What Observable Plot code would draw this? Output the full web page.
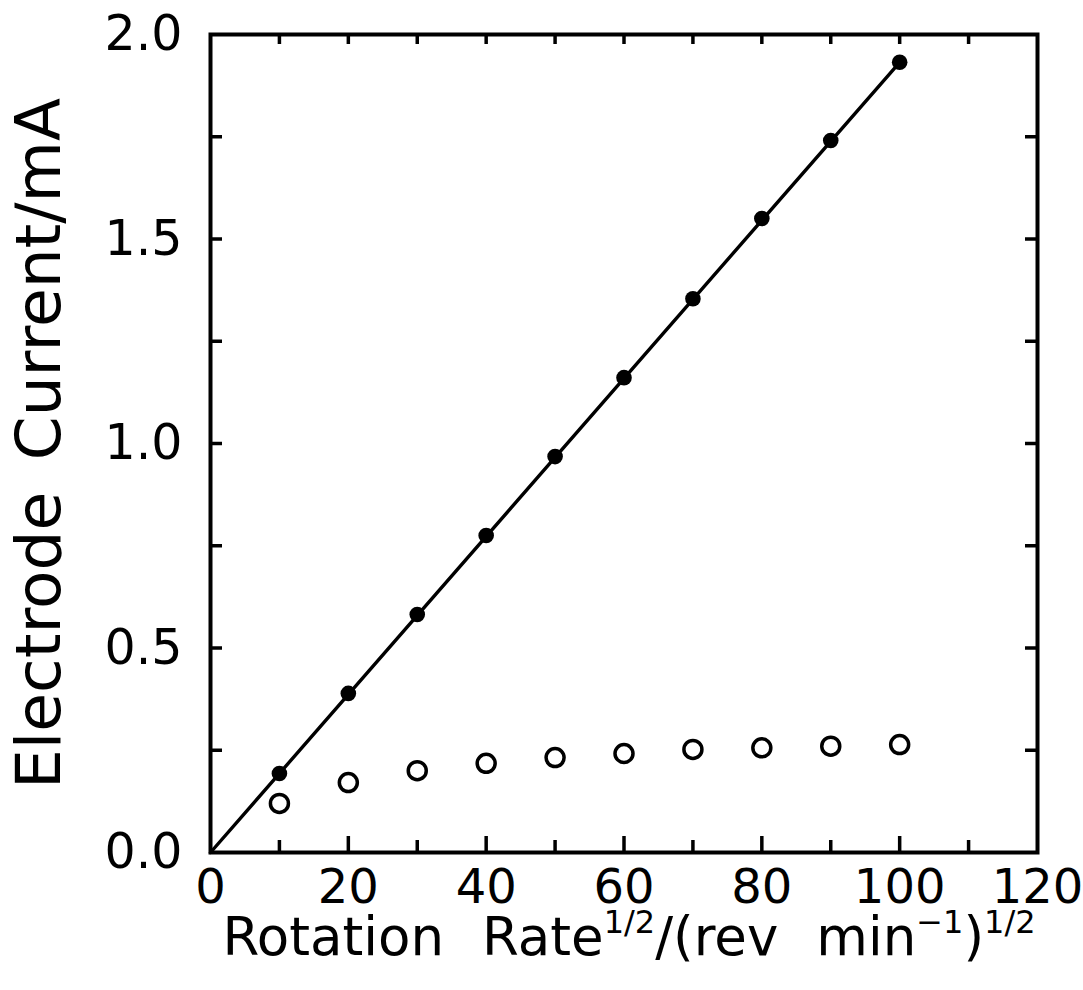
<!DOCTYPE html>
<html><head><meta charset="utf-8">
<script src="https://cdn.jsdelivr.net/npm/d3@7"></script>
<script src="https://cdn.jsdelivr.net/npm/@observablehq/plot@0.6"></script>
<style>
body{margin:0;background:#fff;}
#xlabel{font-family:"DejaVu Sans";font-size:53px;line-height:54px;width:1083px;text-align:center;padding-left:175px;box-sizing:border-box;word-spacing:0.4em;white-space:nowrap;color:#000;}
.sup{position:relative;top:-22px;font-size:32px;word-spacing:0;}
</style></head><body>
<div id="chart"></div>
<div id="xlabel">Rotation Rate<span class="sup">1/2</span>/(rev min<span class="sup">−1</span>)<span class="sup">1/2</span></div>
<script>
// Data
const rotationRate = [10, 20, 30, 40, 50, 60, 70, 80, 90, 100];
const currentFilled = [0.193, 0.389, 0.582, 0.775, 0.968, 1.161, 1.354, 1.550, 1.741, 1.932];
const currentOpen = [0.120, 0.171, 0.200, 0.218, 0.232, 0.242, 0.252, 0.256, 0.260, 0.264];
const fitX = [0, 100];
const fitY = [0, 1.932];
const xTickLabels = [0, 20, 40, 60, 80, 100, 120];
const xMinorTicks = [10, 30, 50, 70, 90, 110];
const xMajorInner = [20, 40, 60, 80, 100];
const xTopTicks = [10, 20, 30, 40, 50, 60, 70, 80, 90, 100, 110];
const yTickLabels = [0, 0.5, 1.0, 1.5, 2.0];
const ySideTicks = [0.25, 0.5, 0.75, 1.0, 1.25, 1.5, 1.75];
const yLabel = "Electrode\u2002Current/mA";

const W = 1083, H = 910;
const mL = 210, mR = 46, mT = 34, mB = 58;
const pw = W - mL - mR, ph = H - mT - mB;

const filled = rotationRate.map((x, i) => ({x, y: currentFilled[i]}));
const open = rotationRate.map((x, i) => ({x, y: currentOpen[i]}));
const fit = fitX.map((x, i) => ({x, y: fitY[i]}));

const chart = Plot.plot({
  width: W, height: H,
  marginLeft: mL, marginRight: mR, marginTop: mT, marginBottom: mB,
  style: {fontFamily: "DejaVu Sans", background: "white", color: "black", overflow: "visible"},
  x: {domain: [0, 120]},
  y: {domain: [0, 2]},
  marks: [
    // inward ticks
    Plot.tickX(xMajorInner, {x: d => d, insetTop: ph - 16, strokeWidth: 3.5, stroke: "black"}),
    Plot.tickX(xMinorTicks, {x: d => d, insetTop: ph - 12, strokeWidth: 3.5, stroke: "black"}),
    Plot.tickX(xTopTicks, {x: d => d, insetBottom: ph - 10, strokeWidth: 3.5, stroke: "black"}),
    Plot.tickY(ySideTicks, {y: d => d, insetRight: pw - 12, strokeWidth: 3.5, stroke: "black"}),
    Plot.tickY(ySideTicks, {y: d => d, insetLeft: pw - 12, strokeWidth: 3.5, stroke: "black"}),
    Plot.axisX({ticks: xTickLabels, tickSize: 0, tickPadding: 16, fontSize: 48, tickFormat: d => d, label: null}),
    Plot.axisY({ticks: yTickLabels, tickSize: 0, tickPadding: 28, fontSize: 49, tickFormat: d3.format(".1f"), label: null}),
    Plot.frame({stroke: "black", strokeWidth: 4}),
    Plot.line(fit, {x: "x", y: "y", stroke: "black", strokeWidth: 3.4}),
    Plot.dot(open, {x: "x", y: "y", r: 9, stroke: "black", strokeWidth: 3.5, fill: "white"}),
    Plot.dot(filled, {x: "x", y: "y", r: 7.8, fill: "black", stroke: "none"}),
    Plot.text([yLabel], {frameAnchor: "left", text: d => d, rotate: -90, dx: -195, lineAnchor: "top", textAnchor: "middle", fontSize: 63, fill: "black"})
  ]
});
document.getElementById("chart").appendChild(chart);
</script>
</body></html>
